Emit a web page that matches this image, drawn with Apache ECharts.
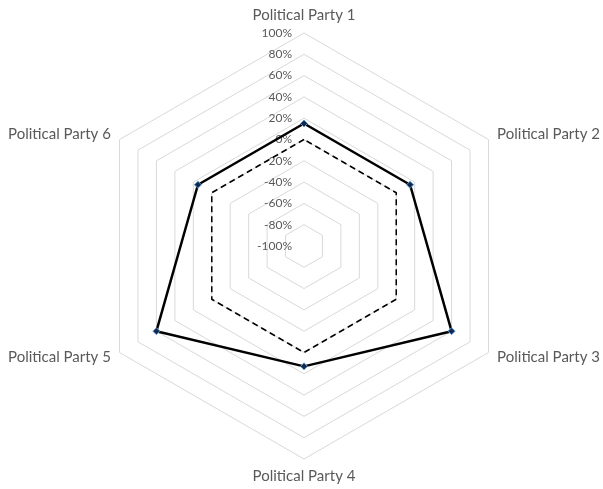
<!DOCTYPE html>
<html>
<head>
<meta charset="utf-8">
<script src="https://cdn.jsdelivr.net/npm/echarts@6/dist/echarts.min.js"></script>
<style>html,body{margin:0;padding:0;background:#fff;}#c{width:603px;height:489px;}</style>
</head>
<body>
<div id="c"></div>
<script>
var categories = ['Political Party 1','Political Party 2','Political Party 3','Political Party 4','Political Party 5','Political Party 6'];
var scoreValues = [15, 15, 60, 13, 60, 15];
var zeroLine = [0, 0, 0, 0, 0, 0];
var tickMin = -100, tickMax = 100, tickStep = 20;

// ECharts radar runs counter-clockwise; reorder so the categories go clockwise
var order = [0, 5, 4, 3, 2, 1];
function reorder(arr) { return order.map(function (i) { return arr[i]; }); }

var chart = echarts.init(document.getElementById('c'), null, {renderer: 'canvas'});
var font = 'Lato, "Liberation Sans", sans-serif';
chart.setOption({
  animation: false,
  backgroundColor: '#ffffff',
  grid: {left: 304, width: 1, top: 33, height: 213},
  xAxis: {type: 'value', show: false},
  yAxis: {
    type: 'value', min: tickMin, max: tickMax, interval: tickStep,
    axisLine: {show: false}, axisTick: {show: false}, splitLine: {show: false},
    axisLabel: {margin: 12, color: '#595959', fontSize: 12, fontFamily: font, formatter: '{value}%'}
  },
  radar: {
    center: [304, 246],
    radius: 213,
    startAngle: 90,
    splitNumber: 10,
    shape: 'polygon',
    axisNameGap: 10,
    axisName: {color: '#595959', fontSize: 15, fontFamily: font},
    axisLine: {show: false},
    axisTick: {show: false},
    axisLabel: {show: false},
    splitArea: {show: false},
    splitLine: {lineStyle: {color: '#d9d9d9', width: 1}},
    indicator: reorder(categories).map(function (c) { return {name: c, min: tickMin, max: tickMax}; })
  },
  series: [{
    type: 'radar',
    data: [
      {
        value: reorder(scoreValues),
        symbol: 'diamond', symbolSize: 7,
        lineStyle: {color: '#000000', width: 2.5},
        itemStyle: {color: '#14284b', borderColor: '#5b9bd5', borderWidth: 1}
      },
      {
        value: reorder(zeroLine),
        symbol: 'none',
        lineStyle: {color: '#000000', width: 1.5, type: [6, 4]}
      }
    ]
  }]
});
</script>
</body>
</html>
